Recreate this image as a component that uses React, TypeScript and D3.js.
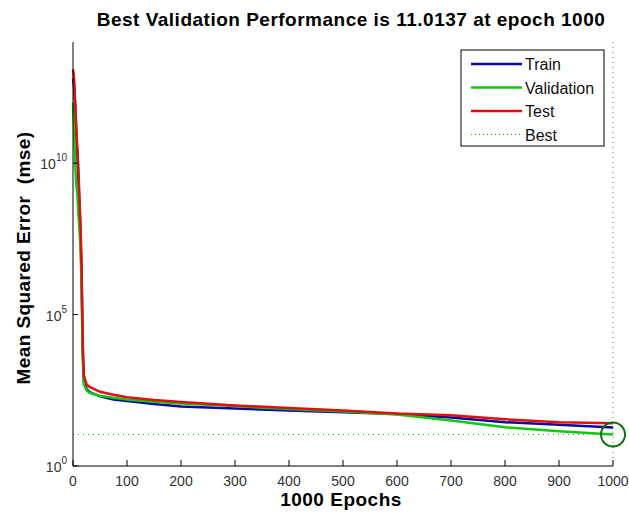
import { useEffect, useRef } from "react";
import * as d3 from "d3";

const epochs = [0, 2, 4, 6, 8, 10, 12, 14, 16, 18, 20, 25, 30, 50, 75, 100, 150, 200, 300, 400, 500, 600, 700, 800, 900, 1000];
const trainMse = [6.3e12, 3.2e12, 8e11, 1e11, 2e10, 3.2e9, 4e8, 4e7, 1.6e6, 6300, 630, 355, 280, 200, 158, 141, 112, 93, 79, 68, 60, 52, 40, 28, 23, 18.6];
const validationMse = [1e12, 1.6e11, 1e10, 2e9, 1e9, 2e8, 6.3e7, 1.6e7, 6.3e5, 4000, 500, 316, 263, 209, 178, 158, 132, 115, 95, 76, 63, 50, 32, 19, 14.1, 11.0137];
const testMse = [1.26e13, 6.3e12, 1e12, 1.6e11, 3.2e10, 6.3e9, 6.3e8, 8e7, 3.2e6, 1.6e4, 1000, 500, 417, 282, 224, 186, 151, 129, 100, 83, 68, 54, 47, 35, 28, 26];
const xTicks = [0, 100, 200, 300, 400, 500, 600, 700, 800, 900, 1000];
const yTicks = [0, 5, 10]; // exponents
const bestEpoch = 1000;
const bestValue = 11.0137;

const series = [
  { name: "Train", values: trainMse, color: "#0a0aa0" },
  { name: "Validation", values: validationMse, color: "#10c810" },
  { name: "Test", values: testMse, color: "#e01010" },
];

function App() {
  const svgRef = useRef<SVGSVGElement>(null);
  const width = 629;
  const height = 514;

  useEffect(() => {
    const svg = d3.select(svgRef.current);
    svg.selectAll("*").remove();

    const left = 73;
    const right = 613;
    const top = 42;
    const bottom = 466;
    const font = "Arial, 'Liberation Sans', sans-serif";

    const x = d3.scaleLinear().domain([0, 1000]).range([left, right]);
    const y = d3.scaleLog().domain([1, 1e14]).range([bottom, top]);

    svg.append("rect").attr("width", width).attr("height", height).attr("fill", "#fff");

    // title
    svg
      .append("text")
      .attr("x", 351)
      .attr("y", 26)
      .attr("text-anchor", "middle")
      .style("font", `bold 19px ${font}`)
      .style("letter-spacing", "0.5px")
      .text("Best Validation Performance is 11.0137 at epoch 1000");

    // best lines
    svg
      .append("line")
      .attr("x1", left)
      .attr("x2", right)
      .attr("y1", y(bestValue))
      .attr("y2", y(bestValue))
      .attr("stroke", "#10b010")
      .attr("stroke-dasharray", "1,4");
    svg
      .append("line")
      .attr("x1", x(bestEpoch))
      .attr("x2", x(bestEpoch))
      .attr("y1", top)
      .attr("y2", bottom)
      .attr("stroke", "#10b010")
      .attr("stroke-dasharray", "1,4");

    const lineGen = d3
      .line<number>()
      .x((d, i) => x(epochs[i]))
      .y((d) => y(d));

    series.forEach((s) => {
      svg
        .append("path")
        .attr("d", lineGen(s.values))
        .attr("fill", "none")
        .attr("stroke", s.color)
        .attr("stroke-width", 2.5);
    });

    // best circle
    svg
      .append("circle")
      .attr("cx", x(bestEpoch))
      .attr("cy", y(bestValue))
      .attr("r", 12)
      .attr("fill", "none")
      .attr("stroke", "#0a700a")
      .attr("stroke-width", 2);

    // axes
    svg
      .append("line")
      .attr("x1", left)
      .attr("x2", left)
      .attr("y1", top)
      .attr("y2", bottom)
      .attr("stroke", "#000");
    svg
      .append("line")
      .attr("x1", left)
      .attr("x2", right)
      .attr("y1", bottom)
      .attr("y2", bottom)
      .attr("stroke", "#000");

    xTicks.forEach((t) => {
      svg
        .append("line")
        .attr("x1", x(t))
        .attr("x2", x(t))
        .attr("y1", bottom)
        .attr("y2", bottom - 6)
        .attr("stroke", "#000");
      svg
        .append("text")
        .attr("x", x(t))
        .attr("y", bottom + 20)
        .attr("text-anchor", "middle")
        .attr("fill", "#333")
        .style("font", `14px ${font}`)
        .text(t);
    });

    yTicks.forEach((e) => {
      const yy = y(Math.pow(10, e));
      svg
        .append("line")
        .attr("x1", left)
        .attr("x2", left + 5)
        .attr("y1", yy)
        .attr("y2", yy)
        .attr("stroke", "#000");
      const txt = svg
        .append("text")
        .attr("x", left - 6)
        .attr("y", yy + 6)
        .attr("text-anchor", "end")
        .attr("fill", "#333")
        .style("font", `14px ${font}`);
      txt.append("tspan").text("10");
      txt.append("tspan").attr("dy", -8).style("font-size", "10px").text(e);
    });

    // axis labels
    svg
      .append("text")
      .attr("x", 341)
      .attr("y", 506)
      .attr("text-anchor", "middle")
      .style("font", `bold 19px ${font}`)
      .style("letter-spacing", "0.5px")
      .text("1000 Epochs");
    svg
      .append("text")
      .attr("transform", "translate(30,258) rotate(-90)")
      .attr("text-anchor", "middle")
      .style("font", `bold 19px ${font}`)
      .style("letter-spacing", "0.4px")
      .style("white-space", "pre")
      .text("Mean Squared Error  (mse)");

    // legend
    const lg = svg.append("g").attr("transform", "translate(461,50)");
    lg.append("rect")
      .attr("width", 143)
      .attr("height", 96)
      .attr("fill", "#fff")
      .attr("stroke", "#000");
    const items = [
      ...series.map((s) => ({ name: s.name, color: s.color, dash: null as string | null })),
      { name: "Best", color: "#10b010", dash: "1,3" },
    ];
    items.forEach((it, i) => {
      const yy = 14 + i * 23.5;
      lg.append("line")
        .attr("x1", 10)
        .attr("x2", 61)
        .attr("y1", yy)
        .attr("y2", yy)
        .attr("stroke", it.color)
        .attr("stroke-width", it.dash ? 1 : 2.5)
        .attr("stroke-dasharray", it.dash);
      lg.append("text")
        .attr("x", 64)
        .attr("y", yy + 6)
        .attr("fill", "#111")
        .style("font", `16px ${font}`)
        .text(it.name);
    });
  }, []);

  return (
    <svg
      ref={svgRef}
      width={width}
      height={height}
      style={{ position: "absolute", left: 0, top: 0, display: "block" }}
    />
  );
}

export default App;
